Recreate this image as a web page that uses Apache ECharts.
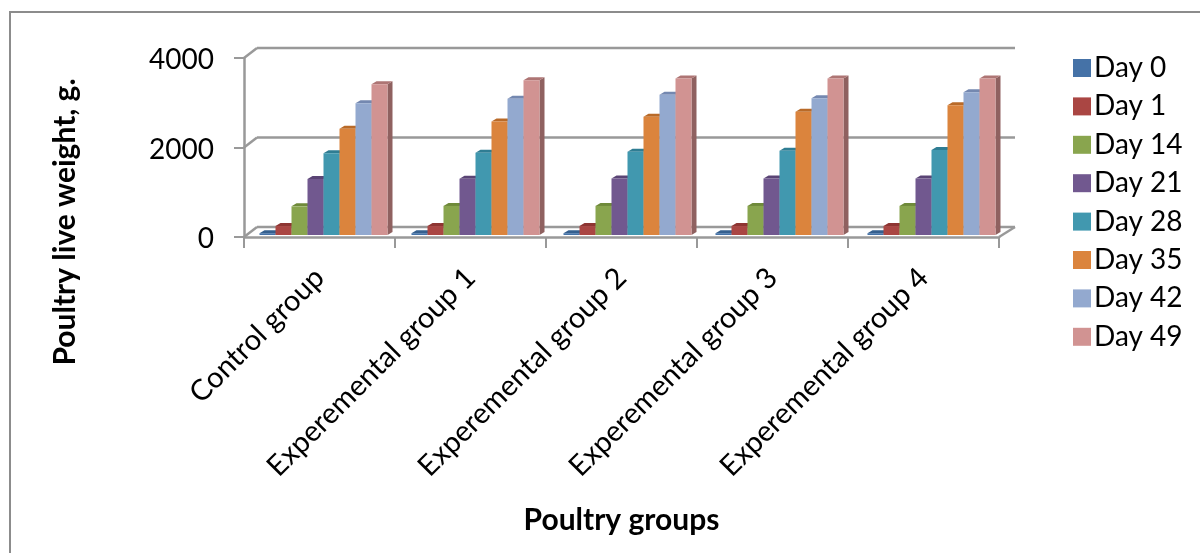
<!DOCTYPE html>
<html>
<head>
<meta charset="utf-8">
<style>html,body{margin:0;padding:0;background:#fff}#chart{width:1200px;height:553px}</style>
<script src="https://cdn.jsdelivr.net/npm/echarts@6/dist/echarts.min.js"></script>
</head>
<body>
<div id="chart"></div>
<script>
const groups = ["Control group", "Experemental group 1", "Experemental group 2", "Experemental group 3", "Experemental group 4"];
const yTicks = [0, 2000, 4000];
const day0 = [40, 40, 40, 40, 40];
const day1 = [200, 200, 200, 200, 200];
const day14 = [640, 650, 650, 650, 650];
const day21 = [1250, 1255, 1265, 1265, 1265];
const day28 = [1825, 1840, 1860, 1885, 1900];
const day35 = [2375, 2535, 2645, 2755, 2900];
const day42 = [2945, 3045, 3135, 3055, 3190];
const day49 = [3370, 3460, 3500, 3500, 3500];

const seriesNames = ["Day 0", "Day 1", "Day 14", "Day 21", "Day 28", "Day 35", "Day 42", "Day 49"];
const seriesData = [day0, day1, day14, day21, day28, day35, day42, day49];
const colors = ["#4572a7", "#aa4643", "#89a54e", "#71588f", "#4198af", "#db843d", "#93a9cf", "#d19392"];
const topColors = ["#35608f", "#8e3532", "#6f8a3a", "#5a4475", "#2f7d93", "#b96a28", "#7488b0", "#ae7574"];
const sideColors = ["#2f5380", "#7d2f2c", "#5f7732", "#4d3a66", "#2a6c80", "#a05c22", "#65779a", "#8f6160"];

const lineColor = "#999999";
const wallDx = 13, wallDxRight = 16, wallDy = -10; // depth of the floor and back wall
const planeDx = 4, planeDy = -2; // the bars stand a little behind the front edge
const groupDrift = 1; // bar groups are spaced a touch wider than the ticks
const depthDx = 5, depthDy = -3; // depth of one bar
const barW = 16;

function seg(x1, y1, x2, y2) {
  return { type: "line", shape: { x1, y1, x2, y2 }, style: { stroke: lineColor, lineWidth: 2.5, fill: null } };
}

// walls are drawn from the axis scale so they follow the ticks
function renderWalls(params, api) {
  const children = [];
  const lastIdx = groups.length - 1;
  const bandW = api.size([1, 0])[0];
  const x0 = api.coord([0, 0])[0] - bandW / 2;
  const x1 = api.coord([lastIdx, 0])[0] + bandW / 2;
  const y0 = api.coord([0, 0])[1];
  yTicks.forEach(function (t) {
    const y = api.coord([0, t])[1];
    children.push(seg(x0, y, x0 + wallDx, y + wallDy));
    children.push(seg(x0 + wallDx, y + wallDy, x1 + wallDxRight, y + wallDy));
  });
  children.push(seg(x1, y0, x1 + wallDxRight, y0 + wallDy));
  return { type: "group", children };
}

function renderBar(seriesIdx) {
  return function (params, api) {
    const idx = api.value(0);
    const base = api.coord([idx, 0]);
    const top = api.coord([idx, api.value(1)]);
    const n = seriesNames.length;
    const left = base[0] + planeDx + idx * groupDrift - (n * barW) / 2 + seriesIdx * barW;
    const right = left + barW;
    const yb = base[1] + planeDy;
    const yt = top[1] + planeDy;
    return {
      type: "group",
      children: [
        {
          type: "polygon",
          shape: { points: [[right, yt], [right + depthDx, yt + depthDy], [right + depthDx, yb + depthDy], [right, yb]] },
          style: { fill: sideColors[seriesIdx] }
        },
        {
          type: "polygon",
          shape: { points: [[left, yt], [left + depthDx, yt + depthDy], [right + depthDx, yt + depthDy], [right, yt]] },
          style: { fill: topColors[seriesIdx] }
        },
        {
          type: "rect",
          shape: { x: left, y: yt, width: barW, height: yb - yt },
          style: { fill: colors[seriesIdx] }
        }
      ]
    };
  };
}

const barSeries = seriesNames.map(function (name, s) {
  return {
    name: name,
    type: "custom",
    renderItem: renderBar(s),
    itemStyle: { color: colors[s] },
    encode: { x: 0, y: 1 },
    z: 5,
    data: seriesData[s].map(function (v, i) { return [i, v]; })
  };
});

const chart = echarts.init(document.getElementById("chart"), null, { renderer: "canvas" });
chart.setOption({
  animation: false,
  backgroundColor: "#fff",
  textStyle: { fontFamily: "Lato", color: "#000" },
  grid: { left: 244, right: 201, top: 58, bottom: 316 },
  graphic: [
    {
      type: "rect",
      shape: { x: 10, y: 12, width: 1200, height: 600 },
      style: { fill: null, stroke: "#8c8c8c", lineWidth: 2 },
      silent: true
    },
    {
      type: "text",
      x: 65,
      y: 222,
      rotation: Math.PI / 2,
      style: {
        text: "Poultry live weight, g.",
        fontFamily: "Lato",
        fontWeight: "bold",
        fontSize: 30,
        fill: "#000",
        align: "center",
        verticalAlign: "middle"
      },
      silent: true
    }
  ],
  legend: {
    left: 1068,
    top: 49,
    orient: "vertical",
    itemWidth: 18,
    itemHeight: 18,
    itemGap: 10.4,
    icon: "rect",
    textStyle: { fontFamily: "Lato", fontSize: 28, color: "#000", padding: [0, 0, 0, -2] },
    data: seriesNames
  },
  xAxis: {
    type: "category",
    data: groups,
    name: "Poultry groups",
    nameLocation: "middle",
    nameGap: 268,
    nameTextStyle: { fontFamily: "Lato", fontWeight: "bold", fontSize: 30, color: "#000" },
    axisLine: { show: true, lineStyle: { color: lineColor, width: 2.5 } },
    axisTick: { show: true, length: 11, lineStyle: { color: lineColor, width: 2 } },
    axisLabel: { rotate: 45, interval: 0, fontFamily: "Lato", fontSize: 29, color: "#000", margin: 36 },
    splitLine: { show: false }
  },
  yAxis: {
    type: "value",
    min: 0,
    max: 4000,
    interval: 2000,
    axisLine: { show: true, lineStyle: { color: lineColor, width: 2.5 } },
    axisTick: { show: true, length: 10, lineStyle: { color: lineColor, width: 2 } },
    axisLabel: { formatter: String, fontFamily: "Lato", fontSize: 28, color: "#000", margin: 30, verticalAlign: "top", lineHeight: 4 },
    splitLine: { show: false }
  },
  series: [{
    name: "walls",
    type: "custom",
    renderItem: renderWalls,
    silent: true,
    z: 1,
    data: [[0, 0]]
  }].concat(barSeries)
});
</script>
</body>
</html>
